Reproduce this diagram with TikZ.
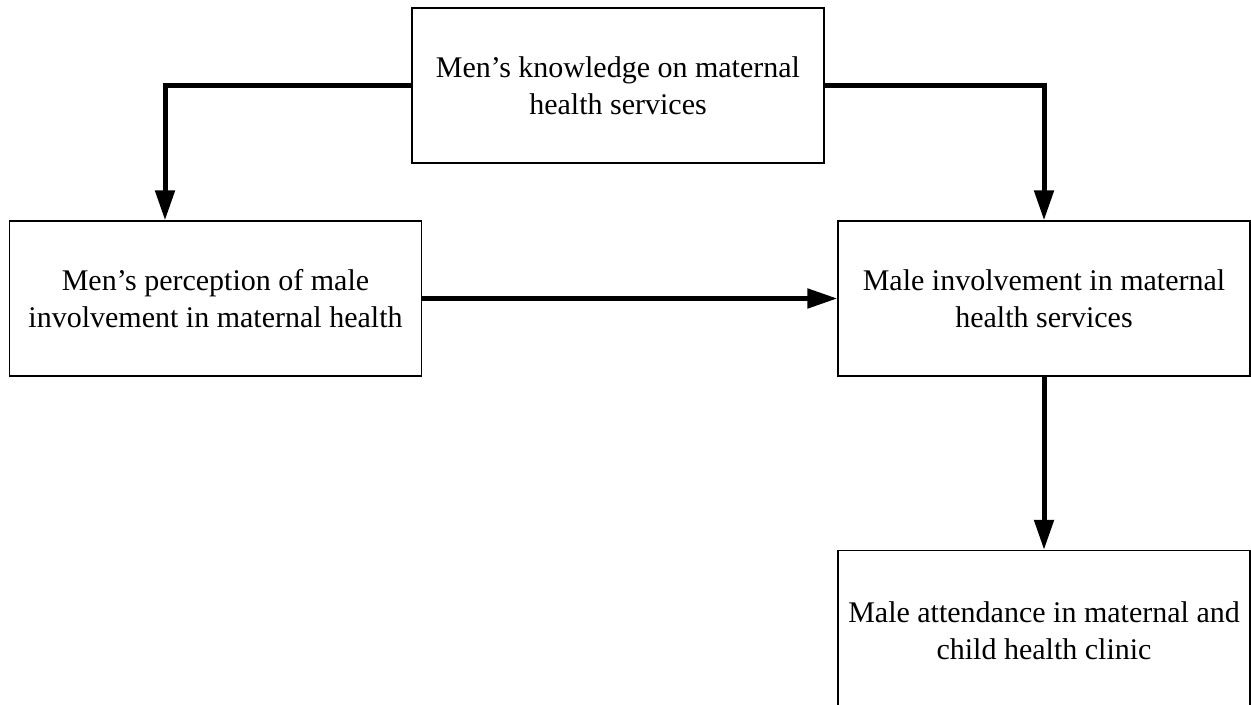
\documentclass[tikz,border=0pt]{standalone}
\usepackage{fontspec}
\setmainfont{Liberation Serif}
\usetikzlibrary{arrows.meta}
\tikzset{
  box/.style={
    draw,line width=0.65pt,inner sep=0pt,align=center,
    minimum width=206pt,minimum height=77.5pt,
    font=\fontsize{15pt}{18.5pt}\selectfont
  },
  flow/.style={
    line width=2.5pt,-{Triangle[length=15pt,width=9.5pt]}
  }
}

\begin{document}
\begin{tikzpicture}[x=0.5pt,y=-0.5pt]
\useasboundingbox (0,0) rectangle (1251,705);
\node[box] (know) at (618,85.5) {Men’s knowledge on maternal\\health services};
\node[box] (percep) at (215.5,298.5) {Men’s perception of male\\involvement in maternal health};
\node[box] (invol) at (1044,298.5) {Male involvement in maternal\\health services};
\node[box,minimum height=80pt] (attend) at (1044,630.5) {Male attendance in maternal and\\child health clinic};
%  connectors
\draw[flow] (know.west) -| ([xshift=-25.25pt]percep.north);
\draw[flow] (know.east) -| (invol.north);
\draw[flow] (percep) -- (invol);
\draw[flow] (invol) -- (attend);
\end{tikzpicture}
\end{document}
